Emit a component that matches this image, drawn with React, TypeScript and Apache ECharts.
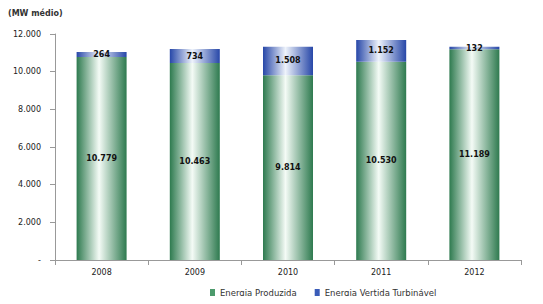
import React, { useEffect, useRef } from "react";
import * as echarts from "echarts";

const categories = ["2008", "2009", "2010", "2011", "2012"];
const energiaProduzida = [10779, 10463, 9814, 10530, 11189];
const energiaVertida = [264, 734, 1508, 1152, 132];
const yTicks = [0, 2000, 4000, 6000, 8000, 10000, 12000];

const fmt = (v: number) =>
  v === 0 ? "-" : String(Math.round(v)).replace(/\B(?=(\d{3})+(?!\d))/g, ".");

export default function App() {
  const ref = useRef<HTMLDivElement>(null);
  useEffect(() => {
    if (!ref.current) return;
    const chart = echarts.init(ref.current, null, { renderer: "svg" });
    const green = new echarts.graphic.LinearGradient(0, 0, 1, 0, [
      { offset: 0, color: "#2e7a4f" },
      { offset: 0.45, color: "#f4fbf6" },
      { offset: 1, color: "#2e7a4f" },
    ]);
    const blue = new echarts.graphic.LinearGradient(0, 0, 1, 0, [
      { offset: 0, color: "#2747a8" },
      { offset: 0.45, color: "#eef3fb" },
      { offset: 1, color: "#2747a8" },
    ]);
    chart.setOption({
      animation: false,
      backgroundColor: "#ffffff",
      title: {
        text: "(MW médio)",
        left: 3,
        top: 4,
        textStyle: { fontSize: 8, fontWeight: "bold", color: "#333", fontFamily: "DejaVu Sans" },
      },
      grid: { left: 55, right: 22, top: 34, bottom: 44, containLabel: false },
      legend: {
        show: true,
        left: 205,
        bottom: 2,
        itemWidth: 5,
        itemHeight: 7,
        itemGap: 18,
        icon: "rect",
        textStyle: { fontSize: 8.5, color: "#333", fontFamily: "DejaVu Sans" },
        data: [
          { name: "Energia Produzida", itemStyle: { color: "#4c9a6c" } },
          { name: "Energia Vertida Turbinável", itemStyle: { color: "#3a5cb8" } },
        ],
      },
      xAxis: {
        type: "category",
        data: categories,
        axisLine: { lineStyle: { color: "#999" } },
        axisTick: { show: true, lineStyle: { color: "#999" } },
        axisLabel: { fontSize: 8, color: "#222", fontFamily: "DejaVu Sans", margin: 8 },
      },
      yAxis: {
        type: "value",
        min: yTicks[0],
        max: yTicks[yTicks.length - 1],
        interval: 2000,
        axisLine: { show: true, lineStyle: { color: "#999" } },
        axisTick: { show: true, lineStyle: { color: "#999" } },
        splitLine: { show: false },
        axisLabel: {
          fontSize: 8,
          color: "#222",
          fontFamily: "DejaVu Sans",
          margin: 14,
          formatter: (v: number) => fmt(v),
        },
      },
      series: [
        {
          name: "Energia Produzida",
          type: "bar",
          stack: "t",
          barWidth: 50,
          data: energiaProduzida,
          itemStyle: { color: green },
          label: {
            show: true,
            position: "inside",
            fontSize: 8,
            fontWeight: "bold",
            color: "#111",
            fontFamily: "DejaVu Sans",
            formatter: (p: any) => fmt(p.value),
          },
        },
        {
          name: "Energia Vertida Turbinável",
          type: "bar",
          stack: "t",
          barWidth: 50,
          data: energiaVertida,
          itemStyle: { color: blue },
          label: {
            show: true,
            position: "inside",
            fontSize: 8,
            fontWeight: "bold",
            color: "#111",
            fontFamily: "DejaVu Sans",
            formatter: (p: any) => fmt(p.value),
          },
        },
      ],
    });
    return () => chart.dispose();
  }, []);
  return <div ref={ref} style={{ width: 543, height: 304, margin: -8 }} />;
}
